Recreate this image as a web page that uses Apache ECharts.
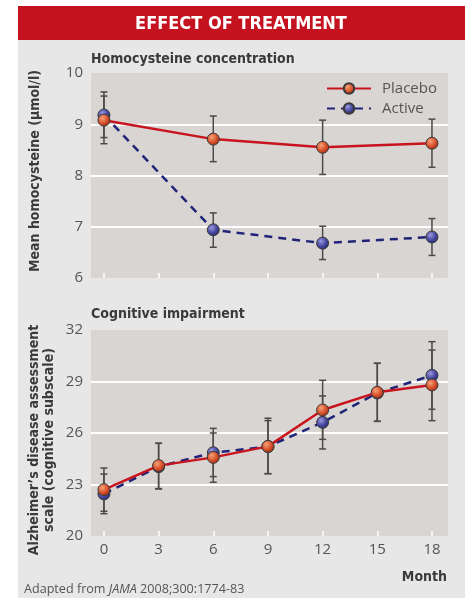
<!DOCTYPE html>
<html>
<head>
<meta charset="utf-8">
<script src="https://cdn.jsdelivr.net/npm/echarts@6/dist/echarts.min.js"></script>
<style>
  html, body { margin: 0; padding: 0; background: #fff; }
  #chart { width: 470px; height: 598px; }
</style>
</head>
<body>
<div id="chart"></div>
<script>
// months on the x axis
const months = [0, 3, 6, 9, 12, 15, 18];
const homMonths = [0, 6, 12, 18];

// homocysteine (umol/l)
const homPlacebo = [9.08, 8.71, 8.55, 8.63];
const homPlaceboLow = [8.62, 8.27, 8.02, 8.16];
const homPlaceboHigh = [9.55, 9.16, 9.08, 9.10];
const homActive = [9.18, 6.94, 6.68, 6.80];
const homActiveLow = [8.74, 6.60, 6.36, 6.44];
const homActiveHigh = [9.63, 7.27, 7.01, 7.16];

// ADAS-cog
const cogPlacebo = [22.70, 24.10, 24.58, 25.22, 27.34, 28.37, 28.80];
const cogPlaceboLow = [21.44, 22.76, 23.13, 23.63, 25.63, 26.68, 26.72];
const cogPlaceboHigh = [23.96, 25.40, 26.00, 26.72, 29.07, 30.06, 30.83];
const cogActive = [22.45, 24.04, 24.85, 25.21, 26.62, 28.33, 29.36];
const cogActiveLow = [21.30, 22.74, 23.46, 23.63, 25.07, 26.68, 27.38];
const cogActiveHigh = [23.61, 25.40, 26.27, 26.86, 28.16, 30.06, 31.32];

const RED = "#c8141f";
const NAVY = "#1f2478";
const BAR = "#4a4a4a";
const LABEL = "#555";
const TITLE = "#3a3a3a";
const condensed = "'DejaVu Sans Condensed', 'DejaVu Sans', sans-serif";
const body = "'Open Sans', 'Noto Sans', sans-serif";

const pair = (xs, ys) => xs.map((x, i) => [x, ys[i]]);
const bars = (xs, lo, hi) => xs.map((x, i) => [x, lo[i], hi[i]]);

const ball = (light, mid, dark) => ({
  type: "radial", x: 0.38, y: 0.35, r: 0.7,
  colorStops: [
    { offset: 0, color: light },
    { offset: 0.55, color: mid },
    { offset: 1, color: dark },
  ],
});
const placeboBall = ball("#f4a27a", "#d9532c", "#9a2a14");
const activeBall = ball("#9a9ae0", "#4848a0", "#26266a");

const errorBars = (name, grid, data) => ({
  type: "custom",
  name: name + " err",
  xAxisIndex: grid,
  yAxisIndex: grid,
  z: 1,
  silent: true,
  data: data,
  renderItem: (params, api) => {
    const top = api.coord([api.value(0), api.value(2)]);
    const bot = api.coord([api.value(0), api.value(1)]);
    const w = 3.5;
    const style = { stroke: BAR, lineWidth: 1.5 };
    return {
      type: "group",
      children: [
        { type: "line", shape: { x1: top[0], y1: top[1], x2: bot[0], y2: bot[1] }, style },
        { type: "line", shape: { x1: top[0] - w, y1: top[1], x2: top[0] + w, y2: top[1] }, style },
        { type: "line", shape: { x1: bot[0] - w, y1: bot[1], x2: bot[0] + w, y2: bot[1] }, style },
      ],
    };
  },
});

const lineSeries = (name, grid, data, color, dashed, fill) => ({
  type: "line",
  name: name,
  xAxisIndex: grid,
  yAxisIndex: grid,
  z: dashed ? 3 : 4,
  data: data,
  symbol: "circle",
  symbolSize: 12,
  lineStyle: { color: color, width: 2.5, type: dashed ? [8, 6] : "solid" },
  itemStyle: { color: fill, borderColor: "#3a3a3a", borderWidth: 1 },
  emphasis: { disabled: true },
  animation: false,
});

const xAxisBase = (grid, showLabels) => ({
  type: "value",
  gridIndex: grid,
  min: -0.71,
  max: 18.88,
  axisLine: { show: false },
  splitLine: { show: false },
  axisTick: {
    show: true, inside: true, length: 5,
    customValues: months,
    lineStyle: { color: "#fff", width: 1.5 },
  },
  axisLabel: {
    show: showLabels,
    customValues: months,
    color: LABEL, fontSize: 15, fontFamily: body, margin: 6,
  },
});

const yAxisBase = (grid, min, max, step) => ({
  type: "value",
  gridIndex: grid,
  min: min,
  max: max,
  interval: step,
  axisLine: { show: false },
  axisTick: { show: false },
  axisLabel: { color: LABEL, fontSize: 15, fontFamily: body, margin: 8 },
  splitLine: {
    show: true, showMinLine: false, showMaxLine: false,
    lineStyle: { color: "#fff", width: 2 },
  },
});

const option = {
  animation: false,
  backgroundColor: "#fff",
  graphic: [
    { type: "rect", z: -10, shape: { x: 18, y: 6, width: 447, height: 592 }, style: { fill: "#e7e7e7" } },
    { type: "rect", z: -9, shape: { x: 18, y: 6, width: 447, height: 34 }, style: { fill: "#c4131f" } },
    {
      type: "text", x: 241, y: 24,
      style: {
        text: "EFFECT OF TREATMENT", fill: "#fff", align: "center", verticalAlign: "middle",
        font: "bold 18px " + condensed,
      },
    },
    {
      type: "text", x: 91, y: 59,
      style: { text: "Homocysteine concentration", fill: TITLE, verticalAlign: "middle", font: "bold 14px " + condensed },
    },
    {
      type: "text", x: 91, y: 314,
      style: { text: "Cognitive impairment", fill: TITLE, verticalAlign: "middle", font: "bold 14px " + condensed },
    },
    {
      type: "text", x: 35, y: 171, rotation: Math.PI / 2,
      style: {
        text: "Mean homocysteine (\u00b5mol/l)", fill: TITLE, align: "center", verticalAlign: "middle",
        font: "bold 14px " + condensed,
      },
    },
    {
      type: "text", x: 42, y: 440, rotation: Math.PI / 2,
      style: {
        text: "Alzheimer\u2019s disease assessment\nscale (cognitive subscale)", fill: TITLE,
        align: "center", verticalAlign: "middle", lineHeight: 15,
        font: "bold 14px " + condensed,
      },
    },
    {
      type: "text", x: 447, y: 577,
      style: { text: "Month", fill: TITLE, align: "right", verticalAlign: "middle", font: "bold 14px " + condensed },
    },
    {
      type: "text", x: 24, y: 589,
      style: {
        text: "Adapted from {i|JAMA} 2008;300:1774-83", fill: LABEL, verticalAlign: "middle",
        font: "12.6px " + body,
        rich: { i: { fontStyle: "italic", fontSize: 12.6, fontFamily: body, fill: LABEL } },
      },
    },
  ],
  legend: {
    left: 326, top: 81,
    padding: 0,
    orient: "vertical",
    itemWidth: 44, itemHeight: 13, itemGap: 5,
    data: ["Placebo", "Active"],
    textStyle: { color: LABEL, fontSize: 15, fontFamily: body, padding: [0, 0, 0, 6] },
    selectedMode: false,
  },
  grid: [
    { left: 91, top: 73, width: 357, height: 205, show: true, backgroundColor: "#d9d5d2", borderWidth: 0 },
    { left: 91, top: 330, width: 357, height: 206, show: true, backgroundColor: "#d9d5d2", borderWidth: 0 },
  ],
  xAxis: [xAxisBase(0, false), xAxisBase(1, true)],
  yAxis: [yAxisBase(0, 6, 10, 1), yAxisBase(1, 20, 32, 3)],
  series: [
    errorBars("Placebo", 0, bars(homMonths, homPlaceboLow, homPlaceboHigh)),
    errorBars("Active", 0, bars(homMonths, homActiveLow, homActiveHigh)),
    errorBars("Placebo", 1, bars(months, cogPlaceboLow, cogPlaceboHigh)),
    errorBars("Active", 1, bars(months, cogActiveLow, cogActiveHigh)),
    lineSeries("Active", 0, pair(homMonths, homActive), NAVY, true, activeBall),
    lineSeries("Placebo", 0, pair(homMonths, homPlacebo), RED, false, placeboBall),
    lineSeries("Active", 1, pair(months, cogActive), NAVY, true, activeBall),
    lineSeries("Placebo", 1, pair(months, cogPlacebo), RED, false, placeboBall),
  ],
};

const chart = echarts.init(document.getElementById("chart"));
chart.setOption(option);
</script>
</body>
</html>
